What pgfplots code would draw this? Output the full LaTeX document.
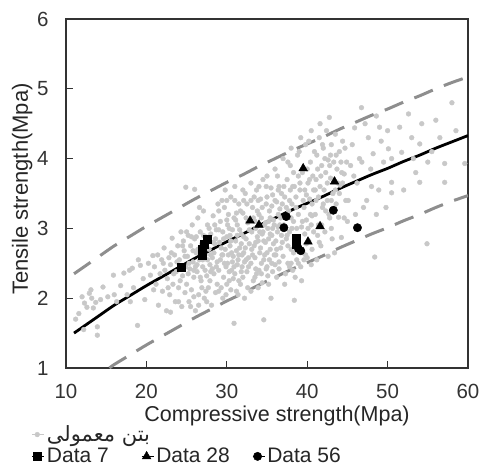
\documentclass[border=0pt]{standalone}
\usepackage{fontspec}
\setmainfont{Liberation Sans}
\newfontfamily\arabicfont[Script=Arabic]{DejaVu Sans}
\TeXXeTstate=1
\usepackage{pgfplots}
\pgfplotsset{compat=1.18}
\definecolor{cloud}{HTML}{C8C8C8}
\definecolor{band}{HTML}{8E8E8E}
\begin{document}
\begin{tikzpicture}
\begin{axis}[
  scale only axis, width=402bp, height=349bp,
  xmin=10, xmax=60, ymin=1, ymax=6,
  xtick={10,20,30,40,50,60}, ytick={1,2,3,4,5,6},
  xtick pos=lower, ytick pos=left,
  tick align=inside, major tick length=7bp,
  axis line style={black!80, line width=1.1bp},
  every tick/.style={black!80, line width=1.1bp},
  /pgf/number format/assume math mode=true,
  ticklabel style={font=\fontsize{20.5bp}{23bp}\selectfont, text=black!80},
  xticklabel style={inner sep=0pt, yshift=-15.5bp},
  yticklabel style={xshift=-14bp},
  xlabel={Compressive strength(Mpa)},
  ylabel={Tensile strength(Mpa)},
  xlabel style={font=\fontsize{21.5bp}{25bp}\selectfont, text=black!85, inner sep=0pt, at={(axis description cs:0.525,-0.138)}, anchor=center},
  ylabel style={font=\fontsize{22bp}{26bp}\selectfont, text=black!85, at={(axis description cs:-0.109,0.513)}, anchor=center},
  legend columns=3,
  legend cell align=left,
  legend image code/.code={\path (0bp,0bp) -- (12bp,0bp); \draw[#1] plot coordinates {(5bp,0bp)};},
  legend style={draw=none, fill=none, at={(axis description cs:-0.085,-0.158)}, anchor=north west,
    font=\fontsize{21bp}{24bp}\selectfont, text=black!85,
    /tikz/every even column/.append style={column sep=20bp},
    nodes={inner sep=2.5bp}, row sep=0bp, inner sep=0pt},
]
% gray cloud
\addplot[only marks, mark=*, mark size=2.4bp, color=cloud, mark options={draw=cloud, fill=cloud}] coordinates {
(11.2,1.70) (12.0,2.02) (12.3,1.93) (12.6,1.87) (12.9,2.07) (13.2,2.00) (13.4,1.86) (13.7,1.94) (13.9,1.59) (13.9,1.47) (12.2,1.55) (11.6,1.78) (13.1,2.12) (14.3,1.98) (14.6,2.16)
(15.2,2.02) (15.9,2.33) (16.3,1.95) (16.8,2.18) (17.2,2.36) (17.6,2.05) (17.9,2.40) (18.25,2.43) (18.4,2.15) (18.9,1.61) (19.25,2.47) (19.6,2.28) (19.8,1.98) (20.25,2.50) (20.5,2.33) (20.8,2.61) (20.9,2.12) (19.0,2.55) (18.0,1.95) (16.0,2.05)
(21.0,2.45) (21.2,2.20) (21.4,2.62) (21.5,1.90) (21.7,2.35) (21.9,2.55) (22.0,2.10) (22.2,2.72) (22.3,2.40) (22.5,1.82) (22.6,2.28) (22.8,2.58) (22.9,2.05) (23.0,2.48) (23.2,2.86) (23.3,2.20) (23.5,2.62) (23.6,1.95) (23.7,2.38) (23.9,2.75) (24.0,2.15) (24.1,2.55) (24.3,2.95) (24.4,1.88) (24.5,2.32) (24.7,2.68) (24.8,2.08) (24.9,3.59) (24.9,2.45) (24.6,2.82)
(25.0,2.20) (25.1,2.60) (25.2,2.90) (25.3,1.95) (25.4,2.42) (25.5,2.75) (25.6,2.12) (25.7,3.05) (25.8,2.52) (25.9,2.30) (26.0,2.85) (26.1,1.82) (26.2,2.65) (26.3,2.38) (26.4,3.15) (26.5,2.05) (26.6,2.55) (26.7,2.95) (26.8,2.25) (26.9,2.78) (27.0,2.45) (27.1,3.25) (27.2,2.00) (27.3,2.62) (27.4,2.88) (27.5,2.32) (27.6,3.05) (27.7,2.15) (27.8,2.70) (27.9,2.48) (28.0,2.92) (28.1,1.90) (28.2,2.58) (28.3,3.18) (28.4,2.35) (28.5,2.78) (28.6,2.08) (28.7,2.98) (28.8,2.52) (28.9,3.35) (25.2,2.35) (25.8,2.68) (26.3,2.48) (26.9,2.15) (27.3,2.40) (27.8,3.00) (28.4,2.65) (28.8,2.20) (25.5,1.88) (26.6,3.30) (27.5,2.82) (28.2,2.42) (25.9,2.02) (26.2,2.88) (27.0,2.55) (27.9,2.25) (28.6,2.85) (26.0,3.56) (27.4,2.10) (28.0,2.62)
(29.0,2.40) (29.1,2.80) (29.2,3.10) (29.3,2.15) (29.4,2.62) (29.5,2.95) (29.6,2.30) (29.7,3.30) (29.8,2.70) (29.9,2.05) (30.0,2.88) (30.1,2.50) (30.2,3.20) (30.3,2.25) (30.4,2.75) (30.5,3.45) (30.6,2.40) (30.7,2.98) (30.8,2.60) (30.9,1.64) (30.9,3.15) (31.0,2.35) (31.1,2.82) (31.2,2.10) (31.3,3.05) (31.4,2.55) (31.5,3.35) (31.6,2.72) (31.7,2.20) (31.8,2.92) (31.9,2.45) (32.0,3.22) (32.1,2.65) (32.2,2.00) (32.3,3.50) (32.4,2.85) (32.5,2.38) (32.6,3.08) (32.7,2.58) (32.8,2.78) (29.2,2.55) (29.6,2.85) (30.0,2.20) (30.3,3.00) (30.6,2.65) (31.0,3.40) (31.3,2.48) (31.6,2.98) (32.0,2.30) (32.4,3.15) (32.7,2.45) (29.4,3.40) (29.9,2.45) (30.4,2.90) (30.8,2.28) (31.2,2.68) (31.7,3.25) (32.1,2.88) (32.6,2.15) (29.5,2.00) (30.1,3.05) (30.7,2.52) (31.4,2.05) (31.9,2.62) (32.3,2.72) (29.8,3.55) (30.5,2.12) (31.1,3.12) (31.8,2.38) (32.5,3.35)
(33.0,2.50) (33.1,2.95) (33.2,3.30) (33.3,2.25) (33.4,2.75) (33.5,3.10) (33.6,2.42) (33.7,3.55) (33.8,2.88) (33.9,2.15) (34.0,3.20) (34.1,2.65) (34.2,3.42) (34.3,2.35) (34.4,2.92) (34.5,3.70) (34.6,1.69) (34.6,2.55) (34.7,3.05) (34.8,2.80) (34.9,3.35) (35.0,2.45) (35.1,3.00) (35.2,2.20) (35.3,3.25) (35.4,2.70) (35.5,2.00) (35.5,3.58) (35.6,2.90) (35.7,2.38) (35.8,3.12) (35.9,2.62) (36.0,3.40) (36.1,2.82) (36.2,2.30) (36.3,3.75) (36.4,3.02) (36.5,2.52) (36.6,3.28) (36.7,2.72) (36.8,3.50) (33.2,2.62) (33.6,3.00) (34.0,2.40) (34.3,3.15) (34.7,2.62) (35.0,3.45) (35.3,2.55) (35.7,3.00) (36.0,2.48) (36.4,3.20) (36.8,2.90) (33.4,3.45) (33.9,2.82) (34.4,2.22) (34.8,3.08) (35.2,2.85) (35.6,3.32) (36.1,2.62) (36.6,3.05) (33.0,2.10) (33.8,3.25) (34.5,2.95) (35.1,2.32) (35.8,2.78) (36.5,3.60) (33.5,2.58) (34.2,2.72) (34.9,2.42) (35.4,3.15) (36.2,3.38)
(37.0,2.60) (37.1,3.05) (37.2,3.45) (37.3,2.35) (37.4,2.85) (37.5,3.70) (37.6,2.50) (37.7,3.25) (37.8,2.95) (37.9,3.90) (38.0,2.70) (38.1,3.35) (38.2,2.40) (38.3,3.10) (38.4,1.97) (38.4,3.60) (38.5,2.88) (38.6,3.45) (38.7,2.55) (38.8,4.05) (38.9,3.20) (39.0,2.75) (39.1,3.55) (39.2,2.45) (39.3,3.02) (39.4,3.80) (39.5,2.65) (39.6,3.30) (39.7,2.92) (39.8,4.20) (39.9,3.12) (40.0,2.58) (40.1,3.65) (40.2,2.82) (40.3,3.42) (40.4,3.95) (40.5,2.48) (40.6,3.18) (40.7,3.75) (40.8,2.95) (37.2,2.20) (37.6,3.95) (38.0,3.15) (38.5,2.30) (38.9,3.75) (39.3,2.25) (39.7,3.55) (40.2,4.25) (40.6,2.70) (37.9,3.55) (38.3,2.65) (39.0,4.10) (39.5,3.40) (40.0,3.85) (40.5,3.05) (37.4,3.30) (38.7,3.00) (39.9,2.78) (40.8,3.55) (37.8,2.45)
(41.0,3.20) (41.1,3.70) (41.2,4.05) (41.3,2.90) (41.4,3.45) (41.5,4.30) (41.6,3.60) (41.7,2.75) (41.8,3.90) (41.9,3.30) (42.0,4.15) (42.1,3.55) (42.2,2.95) (42.3,3.80) (42.4,4.40) (42.5,3.40) (42.6,3.98) (42.75,4.59) (42.8,3.15) (42.9,3.72) (43.0,4.20) (43.1,2.85) (43.2,3.50) (43.3,3.95) (43.5,4.35) (43.6,3.35) (43.7,3.85) (43.9,3.16) (44.0,4.10) (44.1,3.62) (44.25,2.87) (44.4,4.25) (44.6,3.78) (44.8,3.40) (41.3,3.85) (41.8,3.05) (42.3,3.25) (42.9,4.05) (43.4,2.65) (44.2,3.95) (41.6,4.50) (42.6,2.60) (43.8,3.65) (44.7,4.15) (41.2,2.55)
(45.1,3.40) (45.4,3.90) (45.6,4.20) (45.9,4.44) (46.2,3.65) (46.5,4.00) (46.75,4.73) (47.0,3.30) (47.4,3.40) (47.6,4.30) (47.9,3.85) (48.2,4.07) (48.4,2.59) (48.6,4.61) (48.9,3.55) (49.2,4.25) (49.5,3.95) (49.8,3.30) (50.1,4.14) (50.5,4.00) (50.5,3.66) (50.5,3.51) (46.0,3.20) (47.2,4.50) (48.0,3.60) (49.0,4.45) (45.8,3.75) (46.8,3.95) (50.0,4.40) (48.6,3.20)
(51.75,4.09) (51.5,4.45) (52.6,4.64) (53.0,4.30) (53.5,3.80) (54.0,4.21) (54.0,3.66) (54.25,4.50) (54.9,2.78) (55.5,4.10) (56.0,4.55) (57.1,3.93) (57.1,3.66) (58.0,4.80) (59.6,3.93) (52.0,3.55) (55.0,3.95) (56.5,4.30) (53.2,4.00) (58.5,4.40)
(22.1,2.50) (22.7,2.15) (23.1,2.65) (23.4,2.35) (23.8,2.52) (24.2,2.25) (24.5,2.75) (24.8,2.60) (25.3,2.50) (25.6,2.88) (25.9,2.40) (26.4,2.70) (26.7,2.30) (27.1,2.90) (27.6,2.55) (28.0,2.38) (28.3,2.80) (28.7,2.45) (29.0,2.98) (29.3,2.72) (29.7,2.50) (30.0,3.12) (30.2,2.62) (30.5,2.82) (30.9,2.45) (31.2,3.22) (31.5,2.62) (31.8,2.78) (32.1,3.40) (32.4,2.55) (32.8,2.98) (33.1,2.70) (33.3,3.15) (33.6,2.80) (33.9,3.40) (34.1,2.95) (34.4,3.30) (34.6,2.82) (34.9,3.60) (35.2,3.10) (35.4,2.92) (35.7,3.48) (35.9,3.05) (36.2,2.70) (36.4,3.55) (36.7,3.15) (36.9,2.80) (37.1,3.60) (37.3,3.15) (37.6,2.75) (37.8,3.40) (38.1,3.00) (38.3,3.80) (38.6,3.30) (38.8,2.85) (39.1,3.65) (39.4,3.10) (39.6,2.55) (39.9,3.48) (40.1,3.00) (40.3,3.70) (40.6,3.35) (40.9,4.10) (41.1,3.40) (41.4,3.05) (41.7,3.75) (42.0,3.35) (42.2,4.00) (42.5,3.65) (42.8,3.90) (43.0,3.40) (43.3,3.70) (43.6,4.05) (44.0,3.50) (44.3,3.80) (44.6,3.15) (44.9,3.95)
(25.0,2.95) (26.1,2.45) (27.2,2.68) (28.5,3.05) (29.5,2.62) (30.3,2.38) (31.3,2.90) (32.2,2.52) (33.0,3.40) (33.7,2.35) (34.3,2.50) (35.0,2.65) (35.6,2.50) (36.3,2.95) (36.9,3.35) (37.5,2.90) (38.2,3.60) (38.9,2.50) (39.6,3.85) (40.4,3.20) (41.0,3.55) (41.9,4.20) (42.7,3.20) (43.5,3.55) (44.4,3.65)
(36.0,3.85) (37.0,4.00) (38.0,4.15) (39.2,4.30) (40.5,4.40) (35.0,3.75) (34.0,3.60) (33.0,3.65) (32.0,3.55) (31.0,3.60) (30.0,3.40) (29.0,3.25)
(27.5,1.95) (29.0,2.10) (31.5,2.25) (33.5,2.30) (36.5,2.42) (38.0,2.50) (39.8,2.62) (41.5,2.80) (43.0,3.00) (45.0,3.10) (26.5,1.90) (24.0,1.95) (23.0,1.80)
};
\addlegendentry{\makebox[72bp][l]{\arabicfont\fontsize{21bp}{22bp}\selectfont\beginR بتن معمولی\endR}}
\addlegendimage{draw=none}\addlegendentry{}
\addlegendimage{draw=none}\addlegendentry{}
% bands
\addplot[forget plot, band, line width=3bp, dash pattern=on 20bp off 12bp, smooth] coordinates {
(11,2.35) (12,2.43) (14,2.59) (16,2.75) (18,2.89) (20,3.03) (22,3.16) (24,3.29) (26,3.42) (28,3.54) (30,3.66) (32,3.77) (34,3.89) (36,4.00) (38,4.11) (40,4.21) (42,4.31) (44,4.42) (46,4.52) (48,4.62) (50,4.71) (52,4.81) (54,4.90) (56,5.00) (58,5.09) (60,5.17)};
\addplot[forget plot, band, line width=3bp, dash pattern=on 20bp off 12bp, smooth] coordinates {
(15.4,1.00) (16,1.05) (18,1.19) (20,1.33) (22,1.46) (24,1.59) (26,1.72) (28,1.84) (30,1.96) (32,2.07) (34,2.19) (36,2.30) (38,2.41) (40,2.51) (42,2.61) (44,2.72) (46,2.82) (48,2.92) (50,3.01) (52,3.11) (54,3.20) (56,3.30) (58,3.39) (60,3.47)};
% fit
\addplot[forget plot, black, line width=2.8bp, smooth] coordinates {
(11,1.50) (12,1.58) (13,1.66) (14,1.74) (16,1.90) (18,2.04) (20,2.18) (22,2.31) (24,2.44) (26,2.57) (28,2.69) (30,2.81) (32,2.92) (34,3.04) (36,3.15) (38,3.26) (40,3.36) (42,3.46) (44,3.57) (46,3.67) (48,3.77) (50,3.86) (52,3.96) (54,4.05) (56,4.15) (58,4.24) (60,4.33)};
% Data 7
\addplot[only marks, mark=square*, mark size=4bp, black] coordinates {
(24.3,2.44) (26.9,2.62) (27.0,2.70) (27.2,2.77) (27.6,2.84) (38.6,2.86) (38.6,2.78)};
\addlegendentry{Data 7}
% Data 28
\addplot[only marks, mark=triangle*, mark size=5bp, black] coordinates {
(39.5,3.86) (43.4,3.67) (32.9,3.11) (34.0,3.05) (41.6,3.03) (40.1,2.81)};
\addlegendentry{Data 28}
% Data 56
\addplot[only marks, mark=*, mark size=4.2bp, black] coordinates {
(43.25,3.26) (37.4,3.17) (37.1,3.01) (46.25,3.01) (38.9,2.71) (39.2,2.68)};
\addlegendentry{Data 56}
\end{axis}
\pgfresetboundingbox
\useasboundingbox (-66bp,-98bp) rectangle (417bp,368bp);
\end{tikzpicture}
\end{document}
